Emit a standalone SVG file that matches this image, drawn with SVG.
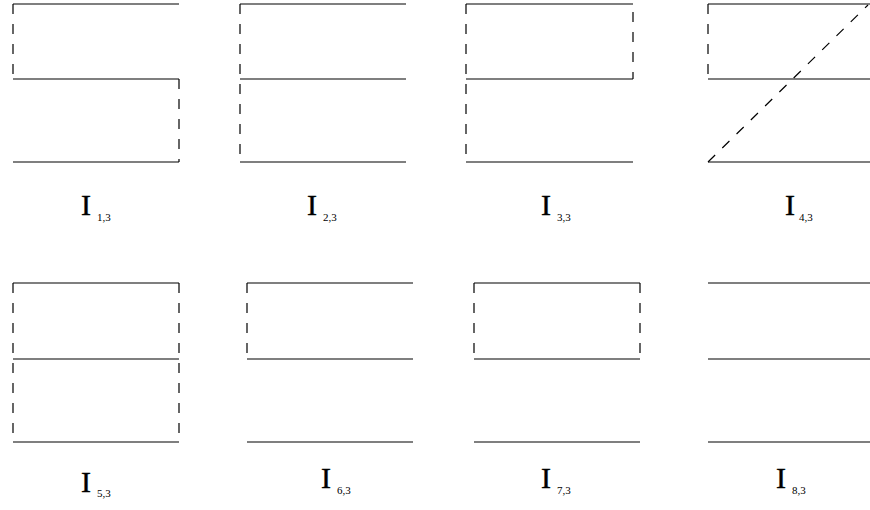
<svg xmlns="http://www.w3.org/2000/svg" width="870" height="510" viewBox="0 0 870 510">
<style>
.s{stroke:#000;stroke-width:1.2;fill:none}
.d{stroke:#000;stroke-width:1.2;fill:none;stroke-dasharray:10,10}
.I{font-family:"Liberation Serif",serif;font-size:30px;fill:#000;stroke:#000;stroke-width:0.4}
.sub{font-family:"Liberation Serif",serif;font-size:11px;fill:#000}
</style>
<rect width="870" height="510" fill="#fff"/>
<g id="p1">
<path class="s" d="M13 4H179M13 79H179M13 162H179"/>
<path class="d" d="M13 4V79M179 79V162"/>
<text class="I" x="81" y="215">I</text><text class="sub" x="97" y="221">1,3</text>
</g>
<g id="p2">
<path class="s" d="M240 4H406M240 79H406M240 162H406"/>
<path class="d" d="M240 4V162"/>
<text class="I" x="307" y="215">I</text><text class="sub" x="323" y="221">2,3</text>
</g>
<g id="p3">
<path class="s" d="M466 4H633M466 79H633M466 162H633"/>
<path class="d" d="M466 4V162M633 12V79"/>
<text class="I" x="541" y="215">I</text><text class="sub" x="557" y="221">3,3</text>
</g>
<g id="p4">
<path class="s" d="M708 4H870M708 79H870M708 162H870"/>
<path class="d" d="M708 4V79M708 162L868 5"/>
<text class="I" x="785" y="215">I</text><text class="sub" x="799" y="221">4,3</text>
</g>
<g id="p5">
<path class="s" d="M13 283H179M13 359H179M13 442H179"/>
<path class="d" d="M13 283V442M179 283V442"/>
<text class="I" x="81" y="492">I</text><text class="sub" x="97" y="497">5,3</text>
</g>
<g id="p6">
<path class="s" d="M247 283H413M247 359H413M247 442H413"/>
<path class="d" d="M247 283V359"/>
<text class="I" x="321" y="488">I</text><text class="sub" x="337" y="494">6,3</text>
</g>
<g id="p7">
<path class="s" d="M474 283H640M474 359H640M474 442H640"/>
<path class="d" d="M474 283V359M640 283V359"/>
<text class="I" x="541" y="488">I</text><text class="sub" x="557" y="494">7,3</text>
</g>
<g id="p8">
<path class="s" d="M708 283H870M708 359H870M708 442H870"/>
<text class="I" x="776" y="488">I</text><text class="sub" x="792" y="494">8,3</text>
</g>
</svg>
